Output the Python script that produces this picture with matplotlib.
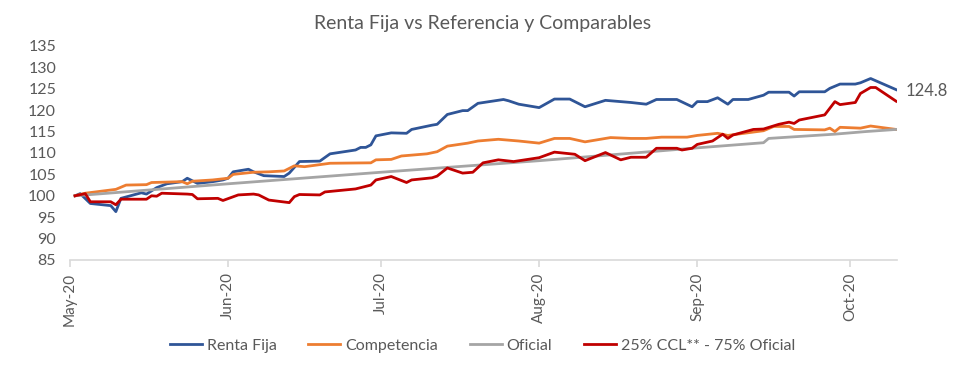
import matplotlib
matplotlib.use("Agg")
import matplotlib.pyplot as plt
import matplotlib.dates as mdates
import pandas as pd

# Series (date, index value)
renta_fija_dates = [
    "2020-05-02", "2020-05-03", "2020-05-05", "2020-05-09", "2020-05-10", "2020-05-11",
    "2020-05-15", "2020-05-16", "2020-05-18", "2020-05-20", "2020-05-23", "2020-05-24",
    "2020-05-26", "2020-05-29", "2020-05-31", "2020-06-01", "2020-06-02", "2020-06-05",
    "2020-06-06", "2020-06-08", "2020-06-12", "2020-06-13", "2020-06-15", "2020-06-19",
    "2020-06-21", "2020-06-26", "2020-06-27", "2020-06-28", "2020-06-29", "2020-06-30",
    "2020-07-03", "2020-07-06", "2020-07-07", "2020-07-11", "2020-07-12", "2020-07-14",
    "2020-07-17", "2020-07-18", "2020-07-20", "2020-07-25", "2020-07-26", "2020-07-28",
    "2020-08-01", "2020-08-04", "2020-08-07", "2020-08-10", "2020-08-14", "2020-08-16",
    "2020-08-19", "2020-08-22", "2020-08-24", "2020-08-28", "2020-08-31", "2020-09-01",
    "2020-09-03", "2020-09-05", "2020-09-07", "2020-09-08", "2020-09-11", "2020-09-14",
    "2020-09-15", "2020-09-19", "2020-09-20", "2020-09-21", "2020-09-26", "2020-09-27",
    "2020-09-29", "2020-10-02", "2020-10-03", "2020-10-05", "2020-10-10",
]
renta_fija = [
    100.0, 100.5, 98.2, 97.7, 96.3, 99.4,
    100.7, 100.4, 101.9, 102.8, 103.3, 104.1,
    102.9, 103.3, 103.7, 104.1, 105.6, 106.2,
    105.6, 104.7, 104.5, 105.3, 108.0, 108.1,
    109.8, 110.7, 111.3, 111.3, 111.9, 114.0,
    114.7, 114.6, 115.5, 116.5, 116.7, 119.0,
    119.9, 119.9, 121.6, 122.5, 122.2, 121.4,
    120.6, 122.6, 122.6, 120.8, 122.3, 122.1,
    121.8, 121.4, 122.5, 122.5, 120.8, 122.0,
    122.0, 122.9, 121.4, 122.5, 122.5, 123.5,
    124.2, 124.2, 123.3, 124.3, 124.3, 125.1,
    126.1, 126.1, 126.4, 127.4, 124.8,
]

competencia_dates = [
    "2020-05-02", "2020-05-04", "2020-05-10", "2020-05-12", "2020-05-16", "2020-05-17",
    "2020-05-23", "2020-05-24", "2020-05-25", "2020-05-29", "2020-06-01", "2020-06-02",
    "2020-06-06", "2020-06-09", "2020-06-12", "2020-06-14", "2020-06-16", "2020-06-21",
    "2020-06-29", "2020-06-30", "2020-07-03", "2020-07-05", "2020-07-10", "2020-07-12",
    "2020-07-14", "2020-07-18", "2020-07-20", "2020-07-24", "2020-07-28", "2020-08-01",
    "2020-08-04", "2020-08-07", "2020-08-10", "2020-08-15", "2020-08-19", "2020-08-22",
    "2020-08-25", "2020-08-30", "2020-09-01", "2020-09-05", "2020-09-07", "2020-09-14",
    "2020-09-16", "2020-09-19", "2020-09-20", "2020-09-26", "2020-09-27", "2020-09-28",
    "2020-09-29", "2020-10-03", "2020-10-05", "2020-10-10",
]
competencia = [
    100.0, 100.6, 101.5, 102.5, 102.6, 103.1,
    103.3, 102.8, 103.4, 103.7, 104.1, 105.0,
    105.5, 105.6, 105.8, 107.0, 106.8, 107.6,
    107.7, 108.4, 108.5, 109.3, 109.8, 110.3,
    111.6, 112.3, 112.8, 113.2, 112.8, 112.3,
    113.4, 113.4, 112.6, 113.6, 113.4, 113.4,
    113.7, 113.7, 114.1, 114.6, 114.1, 115.2,
    116.2, 116.2, 115.5, 115.4, 115.8, 115.0,
    116.0, 115.8, 116.3, 115.5,
]

oficial_dates = [
    "2020-05-02", "2020-06-01", "2020-07-01", "2020-08-01", "2020-09-01",
    "2020-09-14", "2020-09-15", "2020-09-28", "2020-10-04", "2020-10-10",
]
oficial = [100.0, 102.8, 105.5, 108.2, 111.2, 112.4, 113.4, 114.4, 115.0, 115.5]

ccl_dates = [
    "2020-05-02", "2020-05-04", "2020-05-05", "2020-05-09", "2020-05-10", "2020-05-11",
    "2020-05-16", "2020-05-17", "2020-05-18", "2020-05-19", "2020-05-24", "2020-05-25",
    "2020-05-26", "2020-05-30", "2020-05-31", "2020-06-03", "2020-06-06", "2020-06-07",
    "2020-06-09", "2020-06-13", "2020-06-14", "2020-06-15", "2020-06-19", "2020-06-20",
    "2020-06-26", "2020-06-29", "2020-06-30", "2020-07-03", "2020-07-06", "2020-07-07",
    "2020-07-11", "2020-07-12", "2020-07-14", "2020-07-17", "2020-07-19", "2020-07-21",
    "2020-07-24", "2020-07-27", "2020-08-01", "2020-08-04", "2020-08-08", "2020-08-10",
    "2020-08-14", "2020-08-17", "2020-08-19", "2020-08-22", "2020-08-24", "2020-08-28",
    "2020-08-29", "2020-08-31", "2020-09-01", "2020-09-04", "2020-09-06", "2020-09-07",
    "2020-09-08", "2020-09-12", "2020-09-14", "2020-09-17", "2020-09-19", "2020-09-20",
    "2020-09-21", "2020-09-26", "2020-09-28", "2020-09-29", "2020-10-02", "2020-10-03",
    "2020-10-05", "2020-10-06", "2020-10-10",
]
ccl = [
    100.0, 100.5, 98.6, 98.6, 97.9, 99.2,
    99.2, 100.0, 99.9, 100.6, 100.4, 100.3,
    99.3, 99.4, 98.9, 100.2, 100.4, 100.2,
    99.0, 98.4, 99.8, 100.3, 100.2, 100.9,
    101.6, 102.5, 103.7, 104.5, 103.1, 103.7,
    104.2, 104.6, 106.5, 105.3, 105.5, 107.7,
    108.4, 108.0, 108.9, 110.2, 109.7, 108.2,
    110.1, 108.4, 109.0, 109.0, 111.1, 111.1,
    110.7, 111.1, 112.0, 112.8, 114.4, 113.4,
    114.2, 115.5, 115.6, 116.7, 117.2, 116.9,
    117.7, 118.9, 122.0, 121.3, 121.8, 123.9,
    125.3, 125.3, 122.1,
]

series = [
    ("Renta Fija", renta_fija_dates, renta_fija, "#2F5597"),
    ("Competencia", competencia_dates, competencia, "#ED7D31"),
    ("Oficial", oficial_dates, oficial, "#A5A5A5"),
    ("25% CCL** - 75% Oficial", ccl_dates, ccl, "#C00000"),
]

text_color = "#595959"
plt.rcParams["font.family"] = ["Lato", "DejaVu Sans"]

fig = plt.figure(figsize=(9.65, 3.67), dpi=100)
ax = fig.add_axes([0.0725, 0.2916, 0.857, 0.5831])

for name, dates, values, color in series:
    ax.plot(pd.to_datetime(dates), values, color=color, linewidth=2.0,
            solid_joinstyle="round", label=name)

# Last value label for Renta Fija
ax.annotate(f"{renta_fija[-1]:.1f}", xy=(pd.to_datetime(renta_fija_dates[-1]), renta_fija[-1]),
            xytext=(7, -1), textcoords="offset points", va="center", ha="left",
            fontsize=12, color=text_color, annotation_clip=False)

ax.set_ylim(85, 135)
ax.set_yticks(range(85, 136, 5))
ax.set_xlim(pd.Timestamp("2020-05-01"), pd.Timestamp("2020-10-10 04:00"))
ax.xaxis.set_major_locator(mdates.MonthLocator())
ax.xaxis.set_major_formatter(mdates.DateFormatter("%b-%y"))

for side in ["top", "right", "left"]:
    ax.spines[side].set_visible(False)
ax.spines["bottom"].set_color("#D9D9D9")
ax.spines["bottom"].set_linewidth(1.2)
ax.tick_params(axis="y", length=0, labelsize=11.5, labelcolor=text_color, pad=10)
ax.tick_params(axis="x", length=5, color="#D9D9D9", width=1.2, labelsize=11,
               labelcolor=text_color, labelrotation=90, pad=4)

fig.suptitle("Renta Fija vs Referencia y Comparables", x=0.5, y=0.96,
             fontsize=14, color=text_color)

fig.legend(loc="lower center", bbox_to_anchor=(0.5, 0.0), ncol=4, frameon=False,
           fontsize=11.5, labelcolor=text_color, handlelength=2.0, handletextpad=0.3,
           columnspacing=2.0)

fig.savefig("out.png", dpi=100)
